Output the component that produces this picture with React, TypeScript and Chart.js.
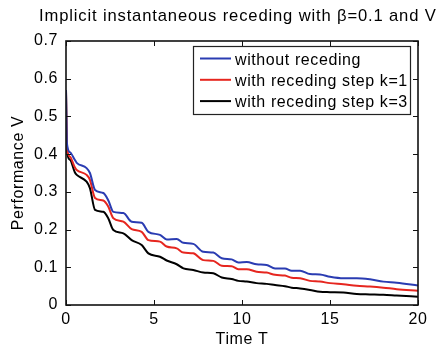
import React, { useEffect, useRef } from "react";
import { Chart, registerables } from "chart.js";

Chart.register(...registerables);

const TITLE = "Implicit instantaneous receding with \u03b2=0.1 and V";
const X_LABEL = "Time T";
const Y_LABEL = "Performance V";
const SERIES_NAMES = ["without receding", "with receding step k=1", "with receding step k=3"];
const COLORS = ["#2a3cb2", "#e6261f", "#000000"];

const times = [0, 0.05, 0.23, 0.5, 0.61, 1.17, 1.36, 1.65, 2.12, 2.4, 2.69, 3.26, 3.73, 4.3, 4.68, 5.34, 5.72, 6.29, 6.67, 7.23, 7.8, 8.37, 8.85, 9.41, 9.79, 10.27, 10.83, 11.4, 11.88, 12.44, 12.82, 13.3, 13.86, 14.43, 15, 15.76, 16.52, 17.27, 18.03, 18.79, 20];

const withoutReceding = [0.57, 0.43, 0.405, 0.385, 0.377, 0.363, 0.35, 0.305, 0.297, 0.278, 0.247, 0.244, 0.221, 0.218, 0.194, 0.186, 0.174, 0.175, 0.165, 0.162, 0.141, 0.139, 0.124, 0.121, 0.113, 0.114, 0.108, 0.106, 0.097, 0.097, 0.091, 0.091, 0.082, 0.081, 0.075, 0.071, 0.071, 0.068, 0.062, 0.059, 0.052];
const recedingK1 = [0.57, 0.42, 0.393, 0.365, 0.358, 0.345, 0.332, 0.284, 0.277, 0.261, 0.23, 0.221, 0.201, 0.194, 0.172, 0.168, 0.155, 0.15, 0.139, 0.137, 0.119, 0.117, 0.104, 0.103, 0.095, 0.095, 0.088, 0.086, 0.08, 0.078, 0.072, 0.071, 0.064, 0.062, 0.058, 0.055, 0.051, 0.049, 0.046, 0.042, 0.038];
const recedingK3 = [0.57, 0.41, 0.385, 0.352, 0.345, 0.327, 0.31, 0.252, 0.247, 0.23, 0.199, 0.19, 0.172, 0.159, 0.137, 0.128, 0.118, 0.108, 0.097, 0.093, 0.086, 0.084, 0.073, 0.069, 0.064, 0.062, 0.058, 0.056, 0.053, 0.05, 0.046, 0.044, 0.04, 0.035, 0.034, 0.033, 0.029, 0.028, 0.027, 0.025, 0.022];

const xTicks = [0, 5, 10, 15, 20];
const yTicks = [0, 0.1, 0.2, 0.3, 0.4, 0.5, 0.6, 0.7];

const FONT = "'Liberation Sans', Arial, Helvetica, sans-serif";
const SPACING = "0.6px";

const spacingPlugin = {
  id: "spacing",
  beforeLayout(chart: any) {
    (chart.ctx as any).letterSpacing = SPACING;
  },
  beforeDraw(chart: any) {
    (chart.ctx as any).letterSpacing = SPACING;
  },
};

const decorPlugin = {
  id: "decor",
  afterDraw(chart: any) {
    const { ctx, chartArea: a, scales } = chart;
    const xs = scales.x;
    const ys = scales.y;
    ctx.save();
    (ctx as any).letterSpacing = SPACING;
    // axes box
    ctx.strokeStyle = "#111";
    ctx.lineWidth = 1.6;
    ctx.strokeRect(a.left, a.top, a.right - a.left, a.bottom - a.top);
    // inner ticks
    ctx.lineWidth = 1;
    const tl = 5;
    ctx.beginPath();
    xTicks.forEach((t) => {
      const px = Math.round(xs.getPixelForValue(t)) + 0.5;
      ctx.moveTo(px, a.bottom);
      ctx.lineTo(px, a.bottom - tl);
      ctx.moveTo(px, a.top);
      ctx.lineTo(px, a.top + tl);
    });
    yTicks.forEach((t) => {
      const py = Math.round(ys.getPixelForValue(t)) + 0.5;
      ctx.moveTo(a.left, py);
      ctx.lineTo(a.left + tl, py);
      ctx.moveTo(a.right, py);
      ctx.lineTo(a.right - tl, py);
    });
    ctx.stroke();
    // legend
    const lx = 193, ly = 46, lw = 217, lh = 68;
    ctx.fillStyle = "#fff";
    ctx.fillRect(lx, ly, lw, lh);
    ctx.strokeStyle = "#222";
    ctx.lineWidth = 1.2;
    ctx.strokeRect(lx + 0.5, ly + 0.5, lw, lh);
    ctx.font = `16px ${FONT}`;
    ctx.textBaseline = "alphabetic";
    ctx.textAlign = "left";
    SERIES_NAMES.forEach((name, i) => {
      const y = 58.5 + i * 21.3;
      ctx.strokeStyle = COLORS[i];
      ctx.lineWidth = 2;
      ctx.beginPath();
      ctx.moveTo(200, y);
      ctx.lineTo(231, y);
      ctx.stroke();
      ctx.fillStyle = "#000";
      ctx.fillText(name, 235, y + 6.3);
    });
    // title
    (ctx as any).letterSpacing = "0.85px";
    ctx.font = `16.6px ${FONT}`;
    ctx.fillStyle = "#000";
    ctx.fillText(TITLE, 39, 21);
    ctx.restore();
  },
};

export default function App() {
  const ref = useRef<HTMLCanvasElement>(null);
  useEffect(() => {
    if (!ref.current) return;
    const mk = (vals: number[]) => times.map((t, i) => ({ x: t, y: vals[i] }));
    const chart = new Chart(ref.current, {
      type: "line",
      data: {
        datasets: [withoutReceding, recedingK1, recedingK3].map((vals, i) => ({
          label: SERIES_NAMES[i],
          data: mk(vals),
          borderColor: COLORS[i],
          backgroundColor: COLORS[i],
          borderWidth: 2,
          pointRadius: 0,
          cubicInterpolationMode: "monotone" as const,
          fill: false,
        })),
      },
      options: {
        animation: false,
        responsive: false,
        maintainAspectRatio: false,
        layout: { padding: { top: 41, right: 20, left: 0, bottom: 0 } },
        plugins: { legend: { display: false }, tooltip: { enabled: false }, title: { display: false } },
        scales: {
          x: {
            type: "linear",
            min: 0,
            max: 20,
            afterFit: (s: any) => { s.height = 48; },
            grid: { display: false, drawTicks: false },
            border: { display: false },
            ticks: {
              stepSize: 5,
              padding: 5,
              color: "#000",
              font: { family: FONT, size: 16 },
              maxRotation: 0,
            },
            title: {
              display: true,
              text: X_LABEL,
              color: "#000",
              font: { family: FONT, size: 16 },
              padding: { top: 0, bottom: 4 },
            },
          },
          y: {
            min: 0,
            max: 0.7,
            afterFit: (s: any) => { s.width = 66; },
            grid: { display: false, drawTicks: false },
            border: { display: false },
            ticks: {
              stepSize: 0.1,
              padding: 8,
              color: "#000",
              font: { family: FONT, size: 16 },
              callback: (v: any) => String(Number(Number(v).toFixed(1))),
            },
            title: {
              display: true,
              text: Y_LABEL,
              color: "#000",
              font: { family: FONT, size: 16 },
              padding: { top: 9, bottom: 0 },
            },
          },
        },
      },
      plugins: [spacingPlugin, decorPlugin],
    });
    return () => chart.destroy();
  }, []);
  return (
    <div style={{ position: "fixed", left: 0, top: 0, width: 438, height: 353, background: "#fff" }}>
      <canvas ref={ref} width={438} height={353} style={{ width: 438, height: 353 }} />
    </div>
  );
}
